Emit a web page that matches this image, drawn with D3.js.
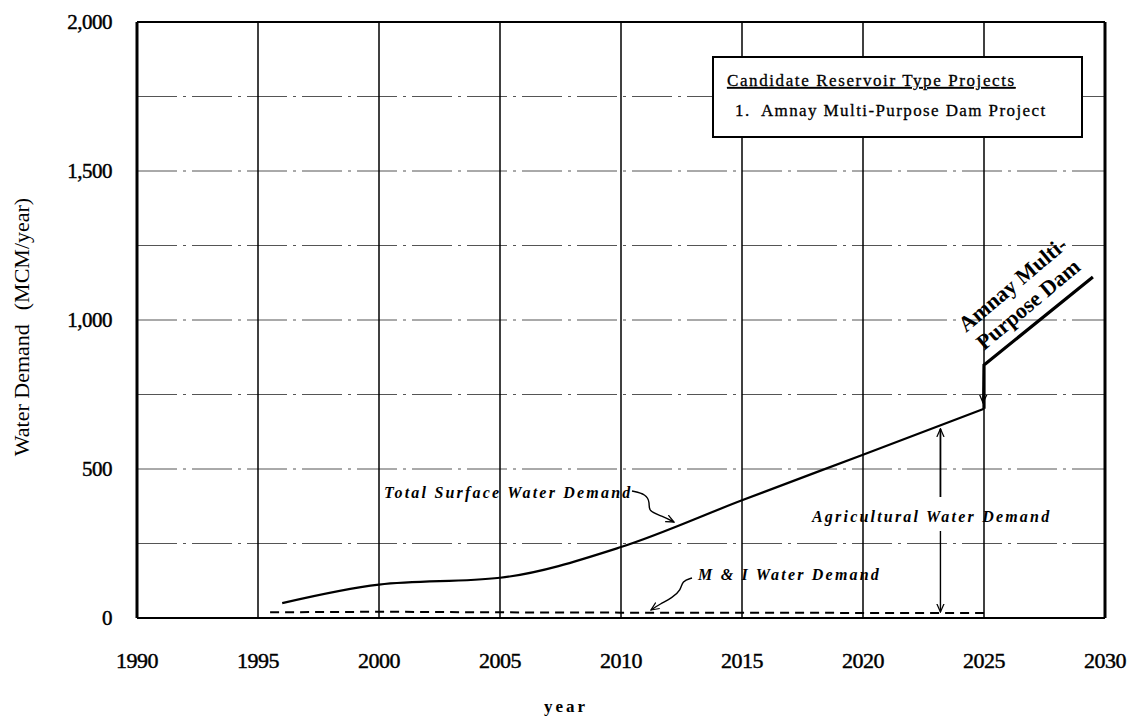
<!DOCTYPE html>
<html><head><meta charset="utf-8">
<script src="https://cdn.jsdelivr.net/npm/d3@7"></script>
<style>body{margin:0;background:#fff}svg{display:block}</style>
</head><body>
<svg id="c" width="1131" height="724"></svg>
<script>
const xTicks = [1990,1995,2000,2005,2010,2015,2020,2025,2030];
const yTicks = [0,500,1000,1500,2000];
const yGrid = [250,500,750,1000,1250,1500,1750];
const totalYears = [1996,2000,2005,2010,2015,2020,2025];
const totalValues = [50,112,135,238,395,548,702];
const miYears = [1995.5,2000,2005,2010,2015,2020,2025];
const miValues = [19,21,19,18,18,17,17];
const damYears = [2025,2025,2029.5];
const damValues = [702,849,1144];

const svg = d3.select("#c");
const m = {l:137,r:1105,t:22,b:618};
const x = d3.scaleLinear().domain([1990,2030]).range([m.l,m.r]);
const y = d3.scaleLinear().domain([0,2000]).range([m.b,m.t]);
const serif = "'Liberation Serif','Times New Roman',serif";

const defs = svg.append("defs");
defs.append("marker").attr("id","ah").attr("viewBox","0 0 10 10").attr("refX",9).attr("refY",5)
  .attr("markerWidth",9).attr("markerHeight",9).attr("orient","auto-start-reverse").attr("markerUnits","userSpaceOnUse")
  .append("path").attr("d","M0,1 L9,5 L0,9").attr("fill","none").attr("stroke","#000").attr("stroke-width",1.4);

// horizontal grid
svg.append("g").selectAll("line").data(yGrid).join("line")
  .attr("x1",m.l).attr("x2",m.r).attr("y1",d=>y(d)).attr("y2",d=>y(d))
  .attr("stroke","#555").attr("stroke-width",1).attr("stroke-dasharray","40,6,3,6");
// vertical grid
svg.append("g").selectAll("line").data(xTicks.slice(1,-1)).join("line")
  .attr("x1",d=>x(d)).attr("x2",d=>x(d)).attr("y1",m.t).attr("y2",m.b)
  .attr("stroke","#000").attr("stroke-width",1.5);
// frame
svg.append("line").attr("x1",m.l).attr("x2",m.l).attr("y1",m.t).attr("y2",m.b).attr("stroke","#000").attr("stroke-width",3);
svg.append("line").attr("x1",m.r).attr("x2",m.r).attr("y1",m.t).attr("y2",m.b).attr("stroke","#000").attr("stroke-width",3);
svg.append("line").attr("x1",m.l).attr("x2",m.r).attr("y1",m.t).attr("y2",m.t).attr("stroke","#000").attr("stroke-width",2);
svg.append("line").attr("x1",m.l).attr("x2",m.r).attr("y1",m.b).attr("y2",m.b).attr("stroke","#000").attr("stroke-width",2);

const ink = g => g.attr("stroke","#000").attr("stroke-width",0.45);
// y tick labels
svg.append("g").selectAll("text").data(yTicks).join("text")
  .attr("x",m.l-25).attr("y",d=>y(d)).attr("dy","0.35em").attr("text-anchor","end")
  .attr("font-family",serif).attr("font-size",21).attr("letter-spacing","-0.5").call(ink).text(d=>d3.format(",")(d));
// x tick labels
svg.append("g").selectAll("text").data(xTicks).join("text")
  .attr("x",d=>x(d)).attr("y",668).attr("text-anchor","middle")
  .attr("font-family",serif).attr("font-size",22).attr("letter-spacing","-0.5").call(ink).text(d=>d);
// axis titles
const yt = svg.append("text").attr("transform","translate(29,327) rotate(-90)").attr("text-anchor","middle")
  .attr("font-family",serif).attr("font-size",22);
yt.append("tspan").text("Water Demand");
yt.append("tspan").attr("dx",14).text("(MCM/year)");
svg.append("text").attr("x",566).attr("y",712).attr("text-anchor","middle")
  .attr("font-family",serif).attr("font-size",17).attr("font-weight","bold").attr("letter-spacing","3").text("year");

// lines
svg.append("path").datum(d3.zip(totalYears,totalValues))
  .attr("d",d3.line().x(d=>x(d[0])).y(d=>y(d[1])).curve(d3.curveMonotoneX))
  .attr("fill","none").attr("stroke","#000").attr("stroke-width",2.2);
svg.append("path").datum(d3.zip(miYears,miValues)).attr("d",d3.line().x(d=>x(d[0])).y(d=>y(d[1])))
  .attr("fill","none").attr("stroke","#000").attr("stroke-width",2).attr("stroke-dasharray","9,6");
svg.append("path").datum(d3.zip(damYears,damValues)).attr("d",d3.line().x(d=>x(d[0])).y(d=>y(d[1])))
  .attr("fill","none").attr("stroke","#000").attr("stroke-width",3.2);

// legend box
svg.append("rect").attr("x",713).attr("y",57).attr("width",369).attr("height",80)
  .attr("fill","#fff").attr("stroke","#000").attr("stroke-width",2);
svg.append("text").attr("x",727).attr("y",86).attr("font-family",serif).attr("font-size",17)
  .attr("letter-spacing","1.6").attr("text-decoration","underline").call(ink).attr("stroke-width",0.3).text("Candidate Reservoir Type Projects");
svg.append("text").attr("x",735).attr("y",116).attr("font-family",serif).attr("font-size",17)
  .attr("letter-spacing","1.4").attr("xml:space","preserve").call(ink).attr("stroke-width",0.3).text("1.  Amnay Multi-Purpose Dam Project");

// annotations
const ital = g => g.attr("font-family",serif).attr("font-style","italic").attr("font-weight","bold")
  .attr("font-size",16).attr("letter-spacing","2.2");
svg.append("text").attr("x",384).attr("y",498).call(ital).text("Total Surface Water Demand");
svg.append("text").attr("x",698).attr("y",580).call(ital).text("M & I Water Demand");
svg.append("text").attr("x",812).attr("y",522).call(ital).text("Agricultural Water Demand");

const curvy = d3.line().curve(d3.curveBasis);
svg.append("path").attr("d",curvy([[632,491],[646,494],[650,503],[648,511],[662,516],[674,522]]))
  .attr("fill","none").attr("stroke","#000").attr("stroke-width",1.4).attr("marker-end","url(#ah)");
svg.append("path").attr("d",curvy([[692,578],[682,581],[681,590],[672,598],[660,604],[651,610]]))
  .attr("fill","none").attr("stroke","#000").attr("stroke-width",1.4).attr("marker-end","url(#ah)");
const ax = x(2023.2);
svg.append("line").attr("x1",ax).attr("x2",ax).attr("y1",497).attr("y2",y(702)+20)
  .attr("stroke","#000").attr("stroke-width",1.8).attr("marker-end","url(#ah)");
svg.append("line").attr("x1",ax).attr("x2",ax).attr("y1",531).attr("y2",y(17)-1)
  .attr("stroke","#000").attr("stroke-width",1.4).attr("marker-end","url(#ah)");
// dam arrow
svg.append("line").attr("x1",x(2025)).attr("x2",x(2025)-1).attr("y1",y(849)).attr("y2",y(702)-6)
  .attr("stroke","#000").attr("stroke-width",2).attr("marker-end","url(#ah)");

// rotated dam label
const dl = svg.append("g").attr("font-family",serif).attr("font-weight","bold").attr("font-size",22);
dl.append("text").attr("transform","translate(966,333) rotate(-40)").text("Amnay Multi-");
dl.append("text").attr("transform","translate(984,351) rotate(-40)").text("Purpose Dam");
</script>
</body></html>
